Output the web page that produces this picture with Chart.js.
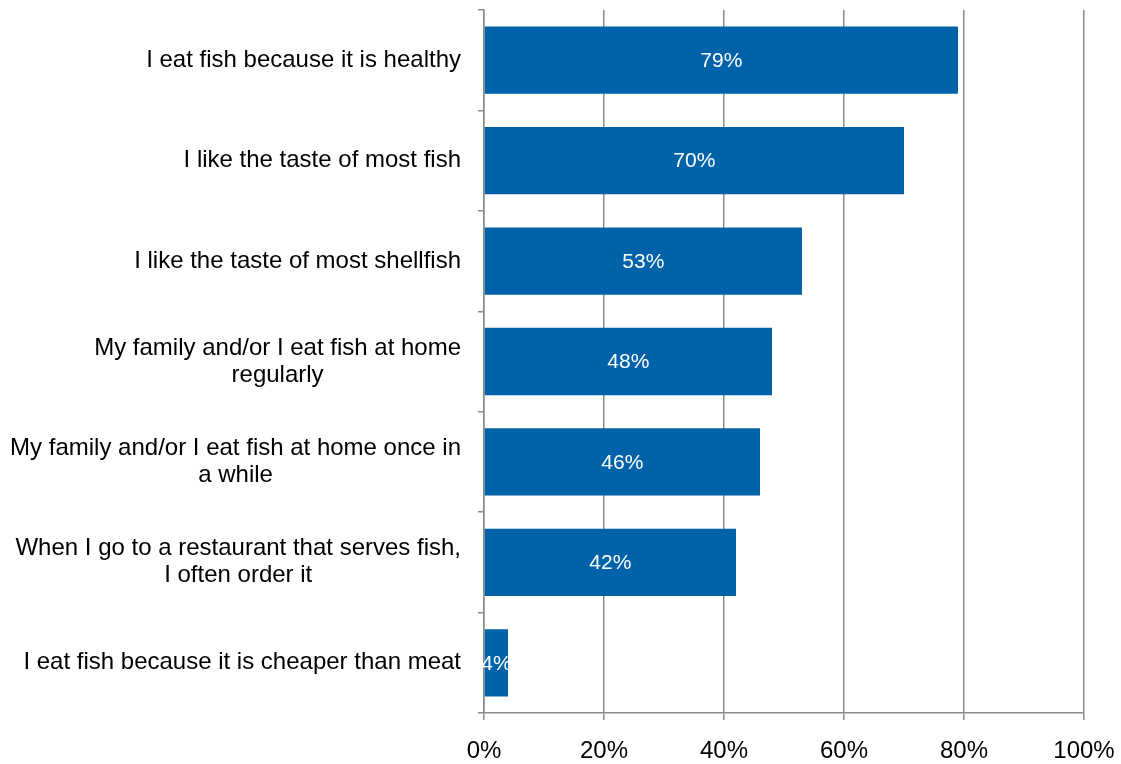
<!DOCTYPE html>
<html>
<head>
<meta charset="utf-8">
<script src="https://cdn.jsdelivr.net/npm/chart.js@4"></script>
<style>
  html, body { margin: 0; padding: 0; background: #fff; }
  #wrap { width: 1121px; height: 764px; }
</style>
</head>
<body>
<div id="wrap"><canvas id="fishChart" width="1121" height="764"></canvas></div>
<script>
// Categories (top to bottom) and shares in percent
const reasons = [
  'I eat fish because it is healthy',
  'I like the taste of most fish',
  'I like the taste of most shellfish',
  ['My family and/or I eat fish at home', 'regularly'],
  ['My family and/or I eat fish at home once in', 'a while'],
  ['When I go to a restaurant that serves fish,', 'I often order it'],
  'I eat fish because it is cheaper than meat'
];
const shares = [79, 70, 53, 48, 46, 42, 4];
const xTicks = [0, 20, 40, 60, 80, 100];

const gray = '#8a8a8a';
const fontFamily = '"Liberation Sans", Arial, sans-serif';

// Write the value label in the middle of each bar
const barLabels = {
  id: 'barLabels',
  afterDatasetsDraw(chart) {
    const ctx = chart.ctx;
    const meta = chart.getDatasetMeta(0);
    ctx.save();
    ctx.fillStyle = '#ffffff';
    ctx.font = '21px ' + fontFamily;
    ctx.textAlign = 'center';
    ctx.textBaseline = 'middle';
    meta.data.forEach((bar, i) => {
      const cx = (bar.x + bar.base) / 2;
      ctx.fillText(shares[i] + '%', cx, bar.y + 1);
    });
    ctx.restore();
  }
};

// Category names: block right-aligned to the axis, lines centred inside it
const categoryLabels = {
  id: 'categoryLabels',
  afterDraw(chart) {
    const ctx = chart.ctx;
    const yScale = chart.scales.y;
    const rightEdge = yScale.right - 23;
    const lineGap = 27;
    ctx.save();
    ctx.fillStyle = '#000';
    ctx.font = '24px ' + fontFamily;
    ctx.textAlign = 'center';
    ctx.textBaseline = 'middle';
    chart.data.labels.forEach((label, i) => {
      const lines = Array.isArray(label) ? label : [label];
      const blockW = Math.max(...lines.map(l => ctx.measureText(l).width));
      const cx = rightEdge - blockW / 2;
      const cy = yScale.getPixelForTick(i);
      const top = cy - (lines.length - 1) * lineGap / 2;
      lines.forEach((line, k) => ctx.fillText(line, cx, top + k * lineGap));
    });
    ctx.restore();
  }
};

new Chart(document.getElementById('fishChart'), {
  type: 'bar',
  data: {
    labels: reasons,
    datasets: [{
      data: shares,
      backgroundColor: '#0063a9',
      borderWidth: 0,
      barPercentage: 0.67,
      categoryPercentage: 1
    }]
  },
  plugins: [barLabels, categoryLabels],
  options: {
    indexAxis: 'y',
    responsive: false,
    animation: false,
    layout: { padding: { top: 10, right: 37, left: 0, bottom: 0 } },
    plugins: {
      legend: { display: false },
      tooltip: { enabled: false }
    },
    scales: {
      x: {
        min: 0,
        max: 100,
        afterBuildTicks(scale) {
          scale.ticks = xTicks.map(v => ({ value: v }));
        },
        afterFit(scale) {
          scale.height = 51;
          scale.paddingLeft = 0;
          scale.paddingRight = 0;
        },
        border: { color: gray, width: 1.5 },
        grid: { color: gray, lineWidth: 1.5, tickLength: 7, tickColor: gray },
        ticks: {
          color: '#000',
          padding: 17,
          font: { family: fontFamily, size: 24 },
          callback: v => v + '%'
        }
      },
      y: {
        afterFit(scale) {
          scale.width = 484;
          scale.paddingTop = 0;
          scale.paddingBottom = 0;
        },
        border: { color: gray, width: 1.5 },
        grid: { drawOnChartArea: false, color: gray, lineWidth: 1.5, tickLength: 6 },
        ticks: {
          color: 'rgba(0,0,0,0)',
          padding: 17,
          font: { family: fontFamily, size: 24 }
        }
      }
    }
  }
});
</script>
</body>
</html>
